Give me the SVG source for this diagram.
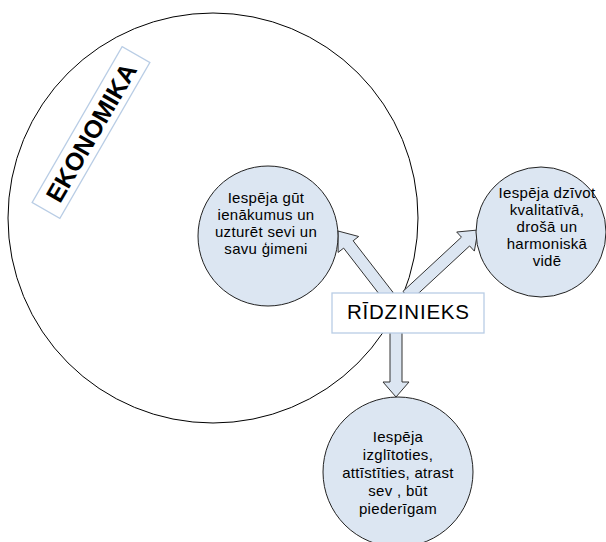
<svg xmlns="http://www.w3.org/2000/svg" width="606" height="542" viewBox="0 0 606 542">
<style>
.bg{fill:#ffffff}
.big{fill:none;stroke:#000;stroke-width:1}
.node{fill:#dce6f2;stroke:#222;stroke-width:1}
.arrow{fill:#dce6f2;stroke:#333;stroke-width:1;stroke-linejoin:miter}
.box{fill:#fff;stroke:#b9cde5;stroke-width:1.3}
.t{font-family:"Liberation Sans",Arial,sans-serif;fill:#000;text-anchor:middle}
.c{font-size:15px;letter-spacing:0.3px}
</style>
<rect class="bg" x="0" y="0" width="606" height="542"/>
<g id="ekonomika">
<circle class="big" cx="213" cy="218" r="205"/>
<g transform="translate(91,132.5) rotate(-60)">
<rect class="box" x="-90" y="-16" width="180" height="32"/>
<text class="t" x="0" y="9" style="font-size:25px;font-weight:bold">EKONOMIKA</text>
</g>
</g>
<g id="connectors">
<polygon class="arrow" points="393.15,292.53 353.15,240.78 358.68,236.49 338,231 338.12,252.41 343.65,248.12 383.65,299.87"/>
<polygon class="arrow" points="411.15,300.12 469.61,245.95 474.36,251.09 478,230 456.70,232.01 461.45,237.15 402.99,291.32"/>
<polygon class="arrow" points="390,330 402,330 402,382 409,382 396,397 383,382 390,382"/>
</g>
<g id="node-ienakumi">
<circle class="node" cx="268" cy="236" r="70"/>
<text class="t c" x="266" y="203">Iespēja gūt</text>
<text class="t c" x="266" y="220">ienākumus un</text>
<text class="t c" x="266" y="237">uzturēt sevi un</text>
<text class="t c" x="266" y="254">savu ģimeni</text>
</g>
<g id="node-vide">
<circle class="node" cx="541" cy="232" r="65"/>
<text class="t c" x="547" y="198">Iespēja dzīvot</text>
<text class="t c" x="547" y="215">kvalitatīvā,</text>
<text class="t c" x="547" y="232">drošā un</text>
<text class="t c" x="547" y="249">harmoniskā</text>
<text class="t c" x="547" y="266">vidē</text>
</g>
<g id="node-izglitiba">
<circle class="node" cx="398" cy="472" r="75"/>
<text class="t c" x="398" y="442">Iespēja</text>
<text class="t c" x="398" y="460">izglītoties,</text>
<text class="t c" x="398" y="478">attīstīties, atrast</text>
<text class="t c" x="398" y="496">sev , būt</text>
<text class="t c" x="398" y="514">piederīgam</text>
</g>
<g id="node-ridzinieks">
<rect class="box" x="332" y="293" width="152" height="40"/>
<text class="t" x="408" y="319" style="font-size:20.5px" textLength="122" lengthAdjust="spacing">RĪDZINIEKS</text>
</g>
</svg>
